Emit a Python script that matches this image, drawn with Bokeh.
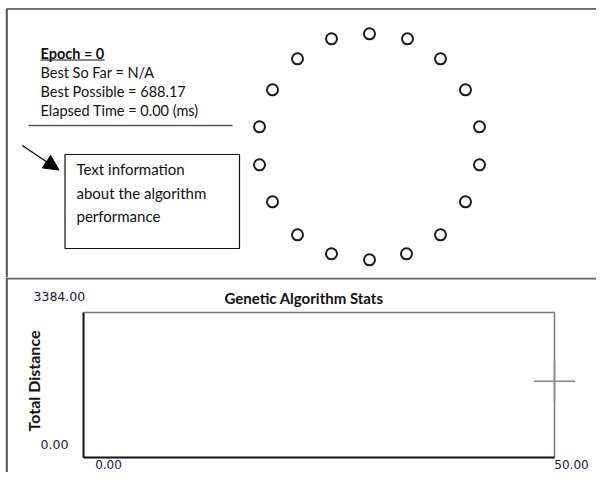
import math
from bokeh.plotting import figure
from bokeh.layouts import column
from bokeh.models import Range1d, Arrow, NormalHead
from bokeh.core.properties import value
from bokeh.embed import file_html
from bokeh.resources import INLINE

# ---------------- data ----------------
# city positions (map units, x to the right, y up, centred on the tour)
city_x = [0, 38, 71, 96, 110, 110, 96, 71, 37, 0, -38, -72, -97, -110, -110, -97, -72, -38]
city_y = [113, 108, 88, 57, 20, -18, -55, -88, -107, -113, -107, -88, -55, -18, 20, 57, 88, 108]

epoch = 0
best_so_far = "N/A"
best_possible = 688.17
elapsed_ms = 0.00
info_lines = ["Text information", "about the algorithm", "performance"]

stats_title = "Genetic Algorithm Stats"
stats_y_label = "Total Distance"
stats_x_min, stats_x_max = 0.0, 50.0
stats_y_min, stats_y_max = 0.0, 3384.0
marker_x = [50.0]
marker_y = [1780.0]

# ---------------- layout ----------------
W = 596
PX0, PX1 = 0, 596          # x extent of the figures (picture px)
TOP_Y0, TOP_Y1 = 0, 277    # y extent of the map figure
BOT_Y0, BOT_Y1 = 277, 472  # y extent of the stats figure
CALIBRI = value("Lato")
TICKF = value("DejaVu Sans")

# map figure: 1 map unit = 1 px, centre of tour at (369, 146.3)
CX, CY = 369.0, 146.3
def tx(px):
    return px - CX
def ty(py):
    return CY - py

top = figure(width=W, height=TOP_Y1 - TOP_Y0, output_backend="svg", toolbar_location=None,
             x_range=Range1d(tx(PX0), tx(PX1)), y_range=Range1d(ty(TOP_Y1), ty(TOP_Y0)),
             x_axis_type=None, y_axis_type=None, min_border=0, title=None,
             outline_line_color=None, background_fill_color="white", border_fill_color="white")
top.xgrid.visible = False
top.ygrid.visible = False

# frame borders
top.line([tx(6), tx(PX1)], [ty(8.3), ty(8.3)], line_color="#666666", line_width=1.8)
top.line([tx(6.3), tx(6.3)], [ty(8.3), ty(TOP_Y1)], line_color="#555555", line_width=2)

# cities
top.scatter(city_x, city_y, marker="circle", size=11, fill_color="white",
            line_color="#1a1a1a", line_width=2)

# status text
status = [f"Epoch = {epoch}", f"Best So Far = {best_so_far}",
          f"Best Possible = {best_possible:.2f}", f"Elapsed Time = {elapsed_ms:.2f} (ms)"]
top.text(x=[tx(40)], y=[ty(53)], text=[status[0]], text_font=CALIBRI, text_font_size="14.5px",
         text_font_style="bold", text_baseline="middle", text_align="left", text_color="#111111")
top.line([tx(40), tx(104)], [ty(59.5), ty(59.5)], line_color="#111111", line_width=1)
top.text(x=[tx(40)] * 3, y=[ty(72), ty(91), ty(110)], text=status[1:], text_font=CALIBRI,
         text_font_size="14.5px", text_baseline="middle", text_align="left", text_color="#111111")
top.line([tx(28), tx(232)], [ty(125), ty(125)], line_color="#555555", line_width=1.5)

# arrow and info box
top.add_layout(Arrow(end=NormalHead(size=15, fill_color="black", line_color="black"),
                     x_start=tx(21.7), y_start=ty(145), x_end=tx(58.5), y_end=ty(169.5),
                     line_color="black", line_width=1.2))
top.quad(left=[tx(64.5)], right=[tx(239)], top=[ty(154)], bottom=[ty(248)],
         fill_color=None, line_color="#111111", line_width=1.2)
top.text(x=[tx(76)] * 3, y=[ty(168.5), ty(192.3), ty(215.5)], text=info_lines, text_font=CALIBRI,
         text_font_size="15px", text_baseline="middle", text_align="left", text_color="#111111")

# stats figure: plot rectangle at x 83..554, y 312..457
L, R, T, B = 83.0, 554.0, 312.0, 457.0
sx = (R - L) / (stats_x_max - stats_x_min)
sy = (B - T) / (stats_y_max - stats_y_min)
bx0 = stats_x_min - (L - PX0) / sx
bx1 = stats_x_max + (PX1 - R) / sx
by0 = stats_y_min - (BOT_Y1 - B) / sy
by1 = stats_y_max + (T - BOT_Y0) / sy
def bx(px):
    return bx0 + (px - PX0) / sx
def by(py):
    return by0 + (BOT_Y1 - py) / sy

bot = figure(width=W, height=BOT_Y1 - BOT_Y0, output_backend="svg", toolbar_location=None,
             x_range=Range1d(bx0, bx1), y_range=Range1d(by0, by1),
             x_axis_type=None, y_axis_type=None, min_border=0, title=None,
             outline_line_color=None, background_fill_color="white", border_fill_color="white")
bot.xgrid.visible = False
bot.ygrid.visible = False

bot.line([bx(6), bx(PX1)], [by(278), by(278)], line_color="#666666", line_width=2)
bot.line([bx(6.3), bx(6.3)], [by(BOT_Y0), by(BOT_Y1)], line_color="#555555", line_width=2)

# plot frame
bot.line([stats_x_min, stats_x_max], [stats_y_max, stats_y_max], line_color="#777777", line_width=1.5)
bot.line([stats_x_max, stats_x_max], [stats_y_min, stats_y_max], line_color="#777777", line_width=1.5)
bot.line([stats_x_min, stats_x_min], [stats_y_min, stats_y_max], line_color="#111111", line_width=2)
bot.line([stats_x_min, stats_x_max], [stats_y_min, stats_y_min], line_color="#111111", line_width=2.2)

bot.scatter(marker_x, marker_y, marker="cross", size=41, line_color="#888888", line_width=1.5)

# tick labels
tick_color = "#1a1a3a"
bot.text(x=[stats_x_min], y=[stats_y_max], text=[f"{stats_y_max:.2f}"], x_offset=-50, y_offset=-16,
         text_font=TICKF, text_font_size="12.5px", text_baseline="middle", text_align="left",
         text_color=tick_color)
bot.text(x=[stats_x_min], y=[stats_y_min], text=[f"{stats_y_min:.2f}"], x_offset=-43, y_offset=-13,
         text_font=TICKF, text_font_size="12.5px", text_baseline="middle", text_align="left",
         text_color=tick_color)
bot.text(x=[stats_x_min, stats_x_max], y=[stats_y_min, stats_y_min],
         text=[f"{stats_x_min:.2f}", f"{stats_x_max:.2f}"], x_offset=[25, 17], y_offset=7,
         text_font=TICKF, text_font_size="12px", text_baseline="middle", text_align="center",
         text_color=tick_color)

# title and axis label
bot.text(x=[(stats_x_min + stats_x_max) / 2], y=[stats_y_max], text=[stats_title],
         x_offset=-15, y_offset=-15, text_font=CALIBRI, text_font_size="15px",
         text_font_style="bold", text_baseline="middle", text_align="center", text_color="#111111")
bot.text(x=[stats_x_min], y=[(stats_y_min + stats_y_max) / 2], text=[stats_y_label],
         x_offset=-50, y_offset=-4, angle=math.pi / 2, text_font=CALIBRI, text_font_size="16px",
         text_font_style="bold", text_baseline="middle", text_align="center", text_color="#111111")

layout = column(top, bot, spacing=0)
open("out.html", "w").write(file_html(layout, INLINE))
